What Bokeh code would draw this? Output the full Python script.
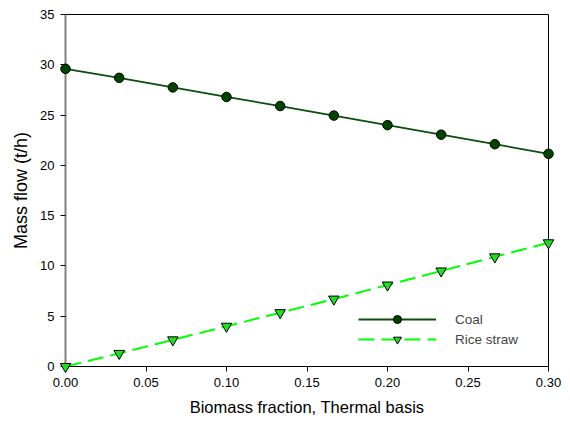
from bokeh.plotting import figure
from bokeh.models import Legend, LegendItem, FixedTicker
from bokeh.embed import file_html
from bokeh.resources import INLINE

fraction = [0.0, 1/30, 2/30, 3/30, 4/30, 5/30, 6/30, 7/30, 8/30, 9/30]
coal = [29.6, 28.7, 27.75, 26.8, 25.9, 24.95, 24.0, 23.05, 22.1, 21.15]
rice_straw = [0.0, 1.3, 2.65, 4.0, 5.35, 6.7, 8.1, 9.5, 10.9, 12.3]
x_ticks = [0.0, 0.05, 0.10, 0.15, 0.20, 0.25, 0.30]
y_ticks = [0, 5, 10, 15, 20, 25, 30, 35]

FONT = "Liberation Sans"

p = figure(width=570, height=425, x_range=(0, 0.3), y_range=(0, 35),
           output_backend="svg", toolbar_location=None,
           min_border_left=65, min_border_right=22, min_border_top=14, min_border_bottom=59)
p.xgrid.visible = False
p.ygrid.visible = False
p.outline_line_color = "black"
p.outline_line_width = 1
p.background_fill_color = "white"
p.border_fill_color = "white"

coal_line = p.line(fraction, coal, line_color="#0b4d0b", line_width=1.8)
coal_pts = p.scatter(fraction, coal, marker="circle", size=9.5, fill_color="#004400",
                     line_color="black", line_width=1, level="overlay")
rice_line = p.line(fraction, rice_straw, line_color="#00ff00", line_width=2, line_dash="16 7")
rice_pts = p.scatter(fraction, rice_straw, marker="inverted_triangle", size=10.5,
                     fill_color="#22dd22", line_color="black", line_width=1, level="overlay")

for ax in (p.xaxis[0], p.yaxis[0]):
    ax.major_label_text_font = FONT
    ax.major_label_text_font_size = "13px"
    ax.major_label_text_color = "black"
    ax.axis_label_text_font = FONT
    ax.axis_label_text_font_style = "normal"
    ax.axis_label_text_color = "black"
    ax.major_tick_out = 5
    ax.major_tick_in = 0
    ax.minor_tick_out = 0
    ax.minor_tick_in = 0
    ax.major_label_standoff = 6

p.xaxis[0].axis_label_text_font_size = "16.5px"
p.yaxis[0].axis_label_text_font_size = "18px"
p.xaxis[0].axis_label_standoff = 8
p.yaxis[0].axis_label_standoff = 6

p.xaxis[0].ticker = FixedTicker(ticks=x_ticks)
p.yaxis[0].ticker = FixedTicker(ticks=y_ticks)
p.xaxis[0].major_label_overrides = {t: f"{t:.2f}" for t in x_ticks}
p.xaxis[0].axis_label = "Biomass fraction, Thermal basis"
p.yaxis[0].axis_label = "Mass flow (t/h)"
p.xaxis[0].axis_line_color = "black"
p.yaxis[0].axis_line_color = "#808080"
p.yaxis[0].axis_line_width = 2

legend = Legend(items=[LegendItem(label="Coal", renderers=[coal_line, coal_pts]),
                       LegendItem(label="Rice straw", renderers=[rice_line, rice_pts])],
                location=(293, 17), margin=0, padding=0, spacing=0,
                glyph_width=78, glyph_height=20, label_height=20,
                label_standoff=19, border_line_color=None, background_fill_alpha=0,
                label_text_font=FONT, label_text_font_size="13.5px")
p.add_layout(legend, "center")

open("out.html", "w").write(file_html(p, INLINE))
